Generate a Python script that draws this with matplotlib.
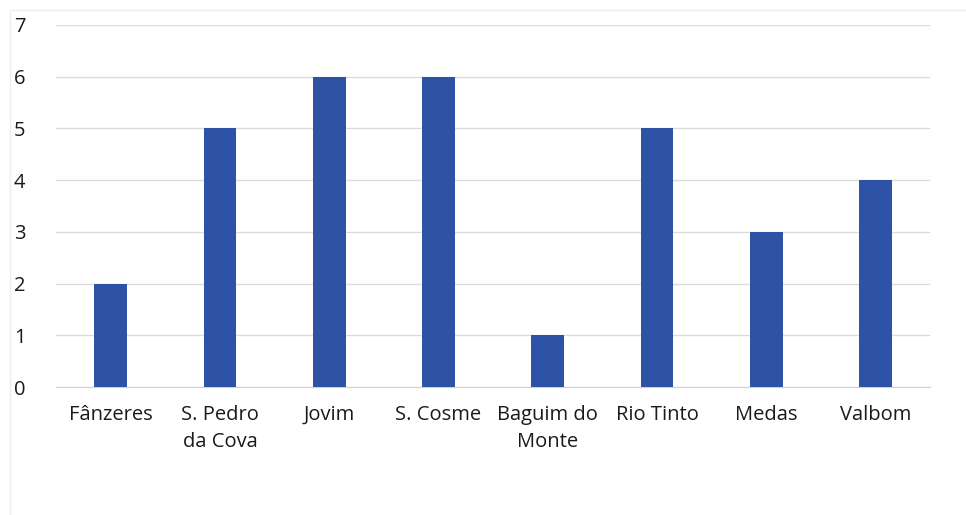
import numpy as np
import matplotlib.pyplot as plt
from matplotlib.patches import Rectangle

plt.rcParams['font.family'] = ['Open Sans', 'DejaVu Sans']
plt.rcParams['font.size'] = 14.5

# data
freguesias = ['Fânzeres', 'S. Pedro\nda Cova', 'Jovim', 'S. Cosme', 'Baguim do\nMonte',
              'Rio Tinto', 'Medas', 'Valbom']
valores = [2, 5, 6, 6, 1, 5, 3, 4]
yticks = [0, 1, 2, 3, 4, 5, 6, 7]

fig = plt.figure(figsize=(9.66, 5.15), dpi=100)
ax = fig.add_axes([0.058, 0.2485, 0.905, 0.703])

x = np.arange(len(freguesias))
ax.bar(x, valores, width=0.30, color='#2D52A6', zorder=3)

ax.set_xlim(-0.5, len(freguesias) - 0.5)
ax.set_ylim(0, 7)
ax.set_yticks(yticks)
ax.set_xticks(x)
ax.set_xticklabels(freguesias, linespacing=1.45)
ax.tick_params(axis='both', length=0, colors='#1A1A1A')
ax.tick_params(axis='y', pad=22)
ax.tick_params(axis='x', pad=13)
ax.grid(axis='y', color='#DCDCDC', linewidth=1, zorder=0)
for s in ['top', 'right', 'left']:
    ax.spines[s].set_visible(False)
ax.spines['bottom'].set_color('#D0D0D0')

# faint chart border from the scan
fig.patches.append(Rectangle((0.01, -0.05), 1.2, 1.03, transform=fig.transFigure,
                             fill=False, edgecolor='#EEEEEE', linewidth=1))

fig.savefig('out.png', dpi=100)
